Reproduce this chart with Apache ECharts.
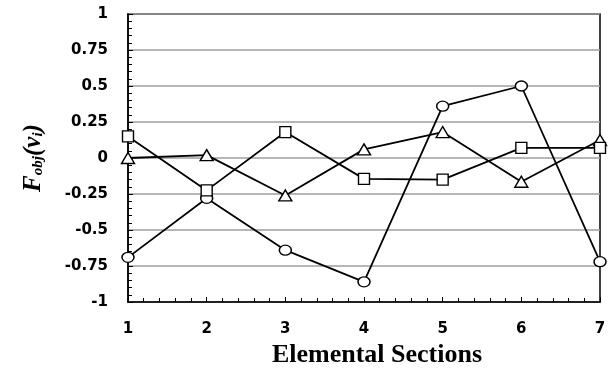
<!DOCTYPE html>
<html>
<head>
<meta charset="utf-8">
<script src="https://cdn.jsdelivr.net/npm/echarts@6/dist/echarts.min.js"></script>
<style>
  html, body { margin: 0; padding: 0; background: #fff; }
  #chart { width: 613px; height: 368px; }
</style>
</head>
<body>
<div id="chart"></div>
<script>
// Section numbers along the x axis
const sections = [1, 2, 3, 4, 5, 6, 7];
// Objective values per section, one array per marker series
const circleValues   = [-0.69, -0.28, -0.64, -0.86, 0.36, 0.50, -0.72];
const triangleValues = [0.00, 0.02, -0.26, 0.06, 0.18, -0.165, 0.125];
const squareValues   = [0.15, -0.225, 0.18, -0.145, -0.15, 0.07, 0.07];
// Axis tick range
const yTicks = { min: -1, max: 1, step: 0.25 };
const xTicks = { min: 1, max: 7, step: 1 };

const pairs = vals => sections.map((s, i) => [s, vals[i]]);

const tickFont = {
  fontFamily: 'DejaVu Sans', fontWeight: 'bold', fontSize: 15, color: '#000'
};

function series(name, symbol, size, vals) {
  return {
    name, type: 'line', data: pairs(vals),
    symbol, symbolSize: size, showSymbol: true,
    lineStyle: { color: '#000', width: 1.8 },
    itemStyle: { color: '#fff', borderColor: '#000', borderWidth: 1.4 },
    emphasis: { disabled: true },
    z: 3
  };
}

const chart = echarts.init(document.getElementById('chart'), null, { renderer: 'canvas' });
chart.setOption({
  animation: false,
  grid: {
    left: 128, right: 13, top: 14, bottom: 66,
    outerBoundsMode: 'none', containLabel: false,
    show: true, borderColor: '#000', borderWidth: 1.5, backgroundColor: 'transparent'
  },
  xAxis: {
    type: 'value', min: xTicks.min, max: xTicks.max, interval: xTicks.step,
    name: 'Elemental Sections', nameLocation: 'middle', nameGap: 40,
    nameTextStyle: {
      fontFamily: 'Liberation Serif', fontWeight: 'bold', fontSize: 26, color: '#000',
      padding: [0, 0, 0, 26]
    },
    axisLine: { show: true, onZero: false, lineStyle: { color: '#000', width: 1.5 } },
    axisTick: { show: true, inside: true, length: 5, lineStyle: { color: '#000', width: 1 } },
    minorTick: { show: true, splitNumber: 5, length: 4, lineStyle: { color: '#000', width: 1 } },
    axisLabel: Object.assign({ margin: 20 }, tickFont),
    splitLine: { show: false }
  },
  yAxis: {
    type: 'value', min: yTicks.min, max: yTicks.max, interval: yTicks.step,
    name: '{f|F}{sub|obj}{p|(}{f|v}{sub|i}{p|)}',
    nameLocation: 'middle', nameGap: 82, nameRotate: 90,
    nameTextStyle: {
      padding: [0, 0, 0, 0],
      rich: {
        f: { fontFamily: 'Liberation Serif', fontStyle: 'italic', fontWeight: 'bold', fontSize: 25, color: '#000', verticalAlign: 'bottom', lineHeight: 26 },
        p: { fontFamily: 'Liberation Serif', fontStyle: 'italic', fontWeight: 'bold', fontSize: 25, color: '#000', verticalAlign: 'bottom', lineHeight: 26 },
        sub: { fontFamily: 'Liberation Serif', fontStyle: 'italic', fontWeight: 'bold', fontSize: 15, color: '#000', verticalAlign: 'bottom', lineHeight: 20 }
      }
    },
    axisLine: { show: true, onZero: false, lineStyle: { color: '#000', width: 1.5 } },
    axisTick: { show: true, inside: true, length: 5, lineStyle: { color: '#000', width: 1 } },
    minorTick: { show: true, splitNumber: 5, length: 4, lineStyle: { color: '#000', width: 1 } },
    axisLabel: Object.assign({ margin: 20 }, tickFont),
    splitLine: { show: true, lineStyle: { color: '#9e9e9e', width: 1.5 } }
  },
  series: [
    series('circle', 'circle', [12, 10], circleValues),
    series('triangle', 'triangle', [13, 11], triangleValues),
    series('square', 'rect', 11, squareValues)
  ]
});
</script>
</body>
</html>
